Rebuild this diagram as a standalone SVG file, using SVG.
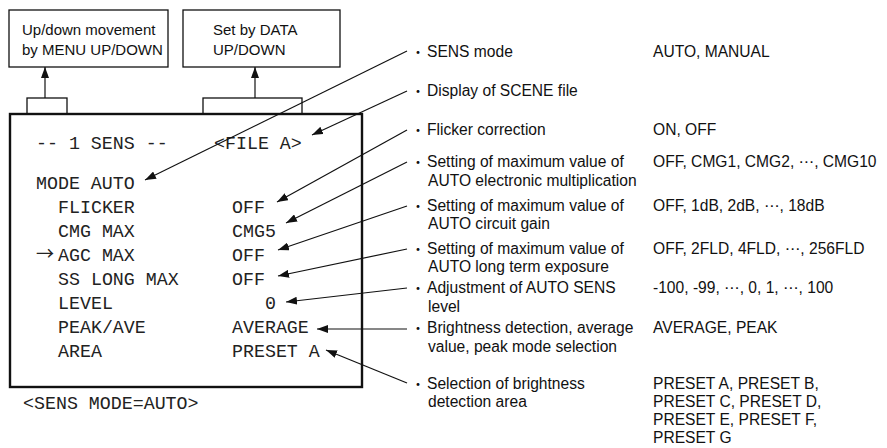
<svg xmlns="http://www.w3.org/2000/svg" width="887" height="448" viewBox="0 0 887 448">
<style>
  .box { fill: #fff; stroke: #111; stroke-width: 1.3; }
  .screen { fill: #fff; stroke: #111; stroke-width: 2.4; }
  .sans { font-family: "Liberation Sans", Arial, sans-serif; font-size: 15px; fill: #111; }
  .lab { font-family: "Liberation Sans", Arial, "DejaVu Sans", sans-serif; font-size: 15.6px; fill: #111; }
  .mono { font-family: "Liberation Mono", "Courier New", monospace; font-size: 18.3px; fill: #222; }
  .bul { font-family: "Noto Sans CJK JP", sans-serif; font-size: 14px; fill: #111; text-anchor: middle; }
  .arr { font-family: "Noto Sans CJK JP", sans-serif; font-size: 18px; fill: #222; }
  .conn line { stroke: #111; stroke-width: 1.2; fill: none; marker-end: url(#ah); }
</style>
<defs>
  <marker id="ah" markerUnits="userSpaceOnUse" markerWidth="11" markerHeight="8" refX="11" refY="4" orient="auto">
    <path d="M0,0 L11,4 L0,8 z" fill="#111"/>
  </marker>
</defs>
<rect width="887" height="448" fill="#fff"/>

<g id="box-menu">
  <rect class="box" x="9" y="10" width="159" height="57"/>
  <text class="sans" x="22" y="35">Up/down movement</text>
  <text class="sans" x="22" y="55">by MENU UP/DOWN</text>
</g>
<g id="box-data">
  <rect class="box" x="183" y="10" width="157" height="57"/>
  <text class="sans" x="213" y="35">Set by DATA</text>
  <text class="sans" x="213" y="55">UP/DOWN</text>
</g>
<g id="tab-menu">
  <rect class="box" x="27" y="98" width="40" height="16"/>
</g>
<g id="tab-data">
  <rect class="box" x="203" y="98" width="99" height="16"/>
</g>

<g id="screen">
  <rect class="screen" x="10" y="114" width="352" height="273"/>
  <text class="mono" x="36" y="149">-- 1 SENS --</text>
  <text class="mono" x="214" y="149">&lt;FILE A&gt;</text>
  <text class="mono" x="36" y="189">MODE AUTO</text>
  <text class="mono" x="58" y="213">FLICKER</text>
  <text class="mono" x="232" y="213">OFF</text>
  <text class="mono" x="58" y="237">CMG MAX</text>
  <text class="mono" x="232" y="237">CMG5</text>
  <text class="arr" x="36" y="260">→</text>
  <text class="mono" x="58" y="261">AGC MAX</text>
  <text class="mono" x="232" y="261">OFF</text>
  <text class="mono" x="58" y="285">SS LONG MAX</text>
  <text class="mono" x="232" y="285">OFF</text>
  <text class="mono" x="58" y="309">LEVEL</text>
  <text class="mono" x="265" y="309">0</text>
  <text class="mono" x="58" y="333">PEAK/AVE</text>
  <text class="mono" x="232" y="333">AVERAGE</text>
  <text class="mono" x="58" y="357">AREA</text>
  <text class="mono" x="232" y="357">PRESET A</text>
</g>
<g id="caption">
  <text class="mono" x="23" y="409">&lt;SENS MODE=AUTO&gt;</text>
</g>

<g id="item-sens-mode">
  <text class="bul" x="418" y="57">・</text>
  <text class="lab" x="427" y="57">SENS mode</text>
  <text class="lab" x="653" y="57">AUTO, MANUAL</text>
</g>
<g id="item-scene">
  <text class="bul" x="418" y="96">・</text>
  <text class="lab" x="427" y="96">Display of SCENE file</text>
</g>
<g id="item-flicker">
  <text class="bul" x="418" y="135">・</text>
  <text class="lab" x="427" y="135">Flicker correction</text>
  <text class="lab" x="653" y="135">ON, OFF</text>
</g>
<g id="item-cmg">
  <text class="bul" x="418" y="167">・</text>
  <text class="lab" x="427" y="167">Setting of maximum value of</text>
  <text class="lab" x="428" y="186">AUTO electronic multiplication</text>
  <text class="lab" x="653" y="167">OFF, CMG1, CMG2, ⋯, CMG10</text>
</g>
<g id="item-agc">
  <text class="bul" x="418" y="211">・</text>
  <text class="lab" x="427" y="211">Setting of maximum value of</text>
  <text class="lab" x="428" y="229">AUTO circuit gain</text>
  <text class="lab" x="653" y="211">OFF, 1dB, 2dB, ⋯, 18dB</text>
</g>
<g id="item-ss">
  <text class="bul" x="418" y="254">・</text>
  <text class="lab" x="427" y="254">Setting of maximum value of</text>
  <text class="lab" x="428" y="272">AUTO long term exposure</text>
  <text class="lab" x="653" y="254">OFF, 2FLD, 4FLD, ⋯, 256FLD</text>
</g>
<g id="item-level">
  <text class="bul" x="418" y="293">・</text>
  <text class="lab" x="427" y="293">Adjustment of AUTO SENS</text>
  <text class="lab" x="428" y="312">level</text>
  <text class="lab" x="653" y="293">-100, -99, ⋯, 0, 1, ⋯, 100</text>
</g>
<g id="item-peak">
  <text class="bul" x="418" y="333">・</text>
  <text class="lab" x="427" y="333">Brightness detection, average</text>
  <text class="lab" x="428" y="352">value, peak mode selection</text>
  <text class="lab" x="653" y="333">AVERAGE, PEAK</text>
</g>
<g id="item-area">
  <text class="bul" x="418" y="389">・</text>
  <text class="lab" x="427" y="389">Selection of brightness</text>
  <text class="lab" x="428" y="407">detection area</text>
  <text class="lab" x="653" y="389">PRESET A, PRESET B,</text>
  <text class="lab" x="653" y="407">PRESET C, PRESET D,</text>
  <text class="lab" x="653" y="425">PRESET E, PRESET F,</text>
  <text class="lab" x="653" y="443">PRESET G</text>
</g>

<g id="connectors" class="conn">
  <line x1="45" y1="98" x2="45" y2="67"/>
  <line x1="255" y1="98" x2="255" y2="67"/>
  <line x1="407" y1="51" x2="145" y2="180"/>
  <line x1="407" y1="91" x2="312" y2="135"/>
  <line x1="407" y1="130" x2="277" y2="202"/>
  <line x1="407" y1="162" x2="286" y2="223"/>
  <line x1="407" y1="206" x2="278" y2="250"/>
  <line x1="407" y1="249" x2="278" y2="276"/>
  <line x1="407" y1="288" x2="286" y2="302"/>
  <line x1="407" y1="329" x2="317" y2="329"/>
  <line x1="407" y1="383" x2="326" y2="350"/>
</g>
</svg>
